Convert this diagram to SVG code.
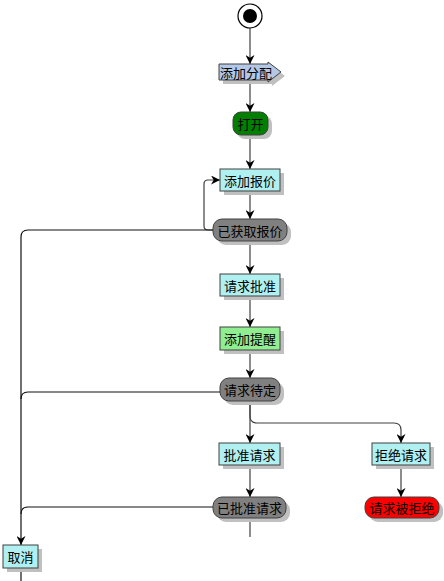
<svg xmlns="http://www.w3.org/2000/svg" width="444" height="581" viewBox="0 0 444 581">
<style>
.t{font-family:"Noto Sans CJK SC","Liberation Sans",sans-serif;font-size:13px;fill:#000;text-anchor:middle;dominant-baseline:central}
.sh{fill:#c0c0c0}
.n{stroke:#404040;stroke-width:1}
.c{fill:none;stroke:#404040;stroke-width:1.2}
.k{fill:none;stroke:#111;stroke-width:1.2}
</style>
<defs>
<marker id="a" viewBox="0 0 10 10" refX="10" refY="5" markerWidth="9" markerHeight="9" markerUnits="userSpaceOnUse" orient="auto">
<path d="M0,0 L10,5 L0,10 L3,5 Z" fill="#000"/>
</marker>
</defs>
<g id="connectors">
<path class="c" d="M250,28 V64" marker-end="url(#a)"/>
<path class="c" d="M250,81 V112" marker-end="url(#a)"/>
<path class="c" d="M250,135 V169" marker-end="url(#a)"/>
<path class="c" d="M250,191 V219" marker-end="url(#a)"/>
<path class="c" d="M213,230 H208 Q204,230 204,226 V184 Q204,180 208,180 H220" marker-end="url(#a)"/>
<path class="k" d="M213,230 H28 Q21,230 21,237 V545" marker-end="url(#a)"/>
<path class="c" d="M250,241 V274" marker-end="url(#a)"/>
<path class="c" d="M250,296 V327" marker-end="url(#a)"/>
<path class="c" d="M250,350 V378" marker-end="url(#a)"/>
<path class="k" d="M220,392 H28 Q21,392 21,399"/>
<path class="c" d="M250,401 V443" marker-end="url(#a)"/>
<path class="c" d="M250,401 V416 Q250,423 257,423 H394 Q401,423 401,430 V443" marker-end="url(#a)"/>
<path class="c" d="M250,465 V497" marker-end="url(#a)"/>
<path class="c" d="M401,465 V497" marker-end="url(#a)"/>
<path class="k" d="M213,507 H28 Q21,507 21,514"/>
<path class="c" d="M250,518 V537"/>
<path class="k" d="M21,568 V581"/>
</g>
<g id="start">
<circle cx="250" cy="16" r="12" fill="#fff" stroke="#000" stroke-width="1.2"/>
<circle cx="250" cy="16" r="7" fill="#000"/>
</g>
<g id="n1">
<polygon class="sh" points="223,68 272,68 272,66 285,76 272,86 272,84 223,84"/>
<polygon class="n" fill="#b4c8e6" points="219,64 268,64 268,62 281,72 268,82 268,80 219,80"/>
<text class="t" x="246" y="72">添加分配</text>
</g>
<g id="n2">
<rect class="sh" x="237" y="116" width="35" height="23" rx="8"/>
<rect class="n" fill="#007f00" x="233" y="112" width="35" height="23" rx="8"/>
<text class="t" x="250.5" y="123.5">打开</text>
</g>
<g id="n3">
<rect class="sh" x="224" y="173" width="60" height="22"/>
<rect class="n" fill="#b0f0f0" x="220" y="169" width="60" height="22"/>
<text class="t" x="250" y="180">添加报价</text>
</g>
<g id="n4">
<rect class="sh" x="217" y="223" width="74" height="22" rx="9"/>
<rect class="n" fill="#808080" x="213" y="219" width="74" height="22" rx="9"/>
<text class="t" x="250" y="230">已获取报价</text>
</g>
<g id="n5">
<rect class="sh" x="224" y="278" width="60" height="22"/>
<rect class="n" fill="#b0f0f0" x="220" y="274" width="60" height="22"/>
<text class="t" x="250" y="285">请求批准</text>
</g>
<g id="n6">
<rect class="sh" x="224" y="331" width="60" height="23"/>
<rect class="n" fill="#90ee90" x="220" y="327" width="60" height="23"/>
<text class="t" x="250" y="338.5">添加提醒</text>
</g>
<g id="n7">
<rect class="sh" x="224" y="382" width="60" height="23" rx="9"/>
<rect class="n" fill="#808080" x="220" y="378" width="60" height="23" rx="9"/>
<text class="t" x="250" y="389.5">请求待定</text>
</g>
<g id="n8">
<rect class="sh" x="223" y="447" width="61" height="22"/>
<rect class="n" fill="#b0f0f0" x="219" y="443" width="61" height="22"/>
<text class="t" x="249.5" y="454">批准请求</text>
</g>
<g id="n9">
<rect class="sh" x="376" y="447" width="58" height="22"/>
<rect class="n" fill="#b0f0f0" x="372" y="443" width="58" height="22"/>
<text class="t" x="401" y="454">拒绝请求</text>
</g>
<g id="n10">
<rect class="sh" x="217" y="501" width="73" height="21" rx="9"/>
<rect class="n" fill="#808080" x="213" y="497" width="73" height="21" rx="9"/>
<text class="t" x="249.5" y="507.5">已批准请求</text>
</g>
<g id="n11">
<rect class="sh" x="369" y="501" width="74" height="21" rx="9"/>
<rect class="n" fill="#ff0000" x="365" y="497" width="74" height="21" rx="9"/>
<text class="t" x="402" y="507.5">请求被拒绝</text>
</g>
<g id="n12">
<rect class="sh" x="7" y="549" width="35" height="23"/>
<rect class="n" fill="#b0f0f0" x="3" y="545" width="35" height="23"/>
<text class="t" x="20.5" y="556.5">取消</text>
</g>
</svg>
